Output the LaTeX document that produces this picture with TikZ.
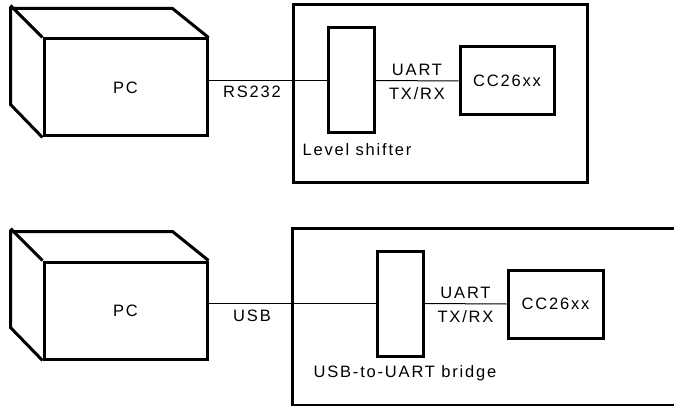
\documentclass[tikz,border=0pt]{standalone}
\usepackage{fontspec}
\setmainfont{Liberation Sans}[LetterSpace=11]
\usetikzlibrary{positioning}
\tikzset{
frame/.style={draw,line width=3pt,line join=miter},
block/.style={frame,inner sep=0pt},
wire/.style={line width=1pt},
lbl/.style={inner sep=1pt},
}
\tikzstyle{every node}=[font=\fontsize{16.5}{19}\selectfont]

\begin{document}
\begin{tikzpicture}[x=1pt,y=-1pt]
        \useasboundingbox (0,0) rectangle (674,406);
        
        % RS232 setup
        \node[block,minimum width=163,minimum height=97] (pc1) at (125.5,87.5) {PC};
        \draw[frame] (pc1.south west) -- ++(-32,-33) -- ++(0,-96) -- ++(162,0) -- (pc1.north east);
        \draw[frame] (pc1.north west) -- ++(-32,-32);
        \node[block,minimum width=294,minimum height=178] (board1) at (440,94) {};
        \node[block,minimum width=46,minimum height=105] (shifter) at (351,80.5) {};
        \node[block,minimum width=94,minimum height=68] (cc1) at (507,81) {CC26xx};
        \draw[wire] (pc1.east |- shifter.west) -- (shifter.west);
        \draw[wire] (shifter.east) -- (cc1.west)
            node[lbl,midway,anchor=south,yshift=4pt] (uart1) {UART}
            node[lbl,midway,anchor=north,yshift=-5pt] (txrx1) {TX/RX};
        \node[lbl] (rs) at (252,92) {RS232};
        \node[lbl] (shiftlbl) at (357,150) {Level shifter};
        
        % USB setup
        \node[block,minimum width=163,minimum height=97] (pc2) at (125.5,310.5) {PC};
        \draw[frame] (pc2.south west) -- ++(-32,-33) -- ++(0,-96) -- ++(162,0) -- (pc2.north east);
        \draw[frame] (pc2.north west) -- ++(-32,-32);
        \draw[frame] (680,228) -- (292,228) -- (292,405) -- (680,405);
        \node[block,minimum width=46,minimum height=105] (bridge) at (400,303.5) {};
        \node[block,minimum width=95,minimum height=68] (cc2) at (555.5,304) {CC26xx};
        \draw[wire] (pc2.east |- bridge.west) -- (bridge.west);
        \draw[wire] (bridge.east) -- (cc2.west)
            node[lbl,midway,anchor=south,yshift=4pt] (uart2) {UART}
            node[lbl,midway,anchor=north,yshift=-5pt] (txrx2) {TX/RX};
        \node[lbl] (usb) at (252,316) {USB};
        \node[lbl] (bridgelbl) at (405,373) {USB-to-UART bridge};
\end{tikzpicture}
\end{document}
